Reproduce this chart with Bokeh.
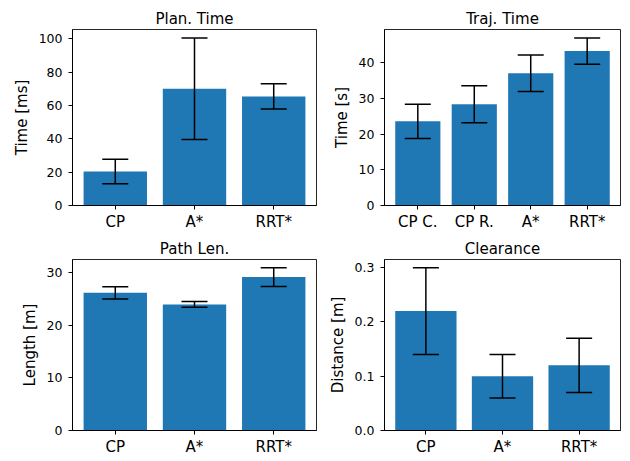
from bokeh.plotting import figure
from bokeh.layouts import gridplot
from bokeh.models import (Range1d, ColumnDataSource, Whisker, TeeHead,
                          SingleIntervalTicker, FixedTicker, NumeralTickFormatter)
from bokeh.embed import file_html
from bokeh.resources import INLINE

STAR = "A*"
# --- data ---
plan_methods = ["CP", STAR, "RRT*"]
plan_time_mean = [20.4, 70.0, 65.4]
plan_time_std = [7.3, 30.5, 7.6]

traj_methods = ["CP C.", "CP R.", STAR, "RRT*"]
traj_time_mean = [23.6, 28.4, 37.1, 43.3]
traj_time_std = [4.8, 5.2, 5.1, 3.7]

path_methods = ["CP", STAR, "RRT*"]
path_len_mean = [26.2, 24.0, 29.2]
path_len_std = [1.15, 0.55, 1.8]

clear_methods = ["CP", STAR, "RRT*"]
clearance_mean = [0.22, 0.10, 0.12]
clearance_std = [0.08, 0.04, 0.05]

FONT = "DejaVu Sans"
BAR = "#1f77b4"


def make(title, cats, means, stds, ylabel, interval, fmt, fw, borders):
    n = len(cats)
    xs = list(range(n))
    upper = [m + s for m, s in zip(means, stds)]
    lower = [m - s for m, s in zip(means, stds)]
    pad = 0.05 * ((n - 1) + 0.8)
    ymax = max(upper) * 1.05
    l, r, t, b = borders
    p = figure(width=fw + l + r, height=176 + t + b,
               x_range=Range1d(-0.4 - pad, n - 1 + 0.4 + pad),
               y_range=Range1d(0, ymax),
               output_backend="svg", toolbar_location=None,
               min_border_left=l, min_border_right=r,
               min_border_top=t, min_border_bottom=b)
    src = ColumnDataSource(dict(x=xs, top=means, upper=upper, lower=lower))
    p.vbar(x="x", top="top", width=0.8, source=src, fill_color=BAR, line_color=None)
    w = Whisker(base="x", upper="upper", lower="lower", source=src,
                line_color="black", line_width=1.5, level="annotation",
                upper_head=TeeHead(size=26, line_color="black", line_width=1.5),
                lower_head=TeeHead(size=26, line_color="black", line_width=1.5))
    p.add_layout(w)

    p.title.text = title
    p.title.align = "center"
    p.title.text_font = FONT
    p.title.text_font_size = "15px"
    p.title.text_font_style = "normal"
    p.title.text_color = "black"
    p.title.standoff = 4

    p.xgrid.visible = False
    p.ygrid.visible = False
    p.outline_line_color = "black"
    p.outline_line_width = 1
    p.outline_line_alpha = 0.85

    xa = p.xaxis[0]
    xa.ticker = FixedTicker(ticks=xs)
    xa.major_label_overrides = {i: c for i, c in enumerate(cats)}
    xa.major_label_text_font = FONT
    xa.major_label_text_font_size = "15px"
    xa.major_label_text_color = "black"
    xa.major_tick_out = 4
    xa.major_tick_in = 0
    xa.minor_tick_out = 0
    xa.minor_tick_in = 0
    xa.major_label_standoff = 3
    xa.axis_line_color = "black"
    xa.major_tick_line_color = "black"

    ya = p.yaxis[0]
    ya.ticker = SingleIntervalTicker(interval=interval, num_minor_ticks=0)
    if fmt:
        ya.formatter = NumeralTickFormatter(format=fmt)
    ya.major_label_text_font = FONT
    ya.major_label_text_font_size = "12.5px"
    ya.major_label_text_color = "black"
    ya.major_tick_out = 4
    ya.major_tick_in = 0
    ya.minor_tick_out = 0
    ya.minor_tick_in = 0
    ya.major_label_standoff = 6
    ya.axis_line_color = "black"
    ya.major_tick_line_color = "black"
    ya.axis_label = ylabel
    ya.axis_label_text_font = FONT
    ya.axis_label_text_font_size = "15px"
    ya.axis_label_text_font_style = "normal"
    ya.axis_label_text_color = "black"
    ya.axis_label_standoff = 5
    return p


p1 = make("Plan. Time", plan_methods, plan_time_mean, plan_time_std,
          "Time [ms]", 20, None, 244, (72, 9, 29, 30))
p2 = make("Traj. Time", traj_methods, traj_time_mean, traj_time_std,
          "Time [s]", 10, None, 245, (50, 2, 29, 30))
p3 = make("Path Len.", path_methods, path_len_mean, path_len_std,
          "Length [m]", 10, None, 244, (72, 9, 22, 25))
p4 = make("Clearance", clear_methods, clearance_mean, clearance_std,
          "Distance [m]", 0.1, "0.0", 245, (50, 2, 22, 25))

grid = gridplot([[p1, p2], [p3, p4]], toolbar_location=None)

with open("out.html", "w") as f:
    f.write(file_html(grid, INLINE))
